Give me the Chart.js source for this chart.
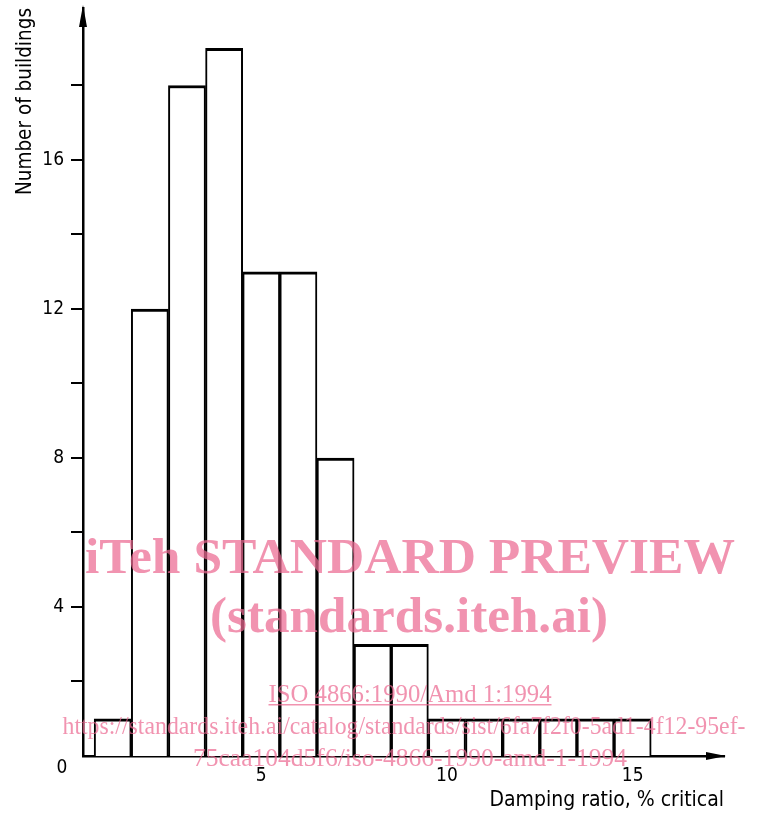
<!DOCTYPE html>
<html>
<head>
<meta charset="utf-8">
<script src="https://cdn.jsdelivr.net/npm/chart.js@4.4.0/dist/chart.umd.min.js"></script>
<style>
html,body{margin:0;padding:0;background:#fff;}
canvas{display:block;}
</style>
</head>
<body>
<canvas id="c" width="757" height="815"></canvas>
<script>
// ---- data ----
const binCenters = [1, 2, 3, 4, 5, 6, 7, 8, 9, 10, 11, 12, 13, 14, 15];
const buildingCounts = [1, 12, 18, 19, 13, 13, 8, 3, 3, 1, 1, 1, 1, 1, 1];
const yTickValues = [2, 4, 6, 8, 10, 12, 14, 16, 18];
const yLabelValues = [4, 8, 12, 16];
const xTickValues = [5, 10, 15];
const xTitle = 'Damping ratio, % critical';
const yTitle = 'Number of buildings';
const originLabel = '0';
const watermarkLines = [
  'iTeh STANDARD PREVIEW',
  '(standards.iteh.ai)',
  'ISO 4866:1990/Amd 1:1994',
  'https://standards.iteh.ai/catalog/standards/sist/6fa7f2f0-5ad1-4f12-95ef-',
  '75caa104d5f6/iso-4866-1990-amd-1-1994'
];

const FONT = "'DejaVu Sans Condensed', 'Liberation Sans Narrow', 'DejaVu Sans', sans-serif";

const decorPlugin = {
  id: 'decor',
  afterDraw(chart) {
    const ctx = chart.ctx;
    const a = chart.chartArea;
    ctx.save();
    // arrowheads
    ctx.fillStyle = '#000';
    ctx.beginPath();
    ctx.moveTo(a.left, a.top - 3);
    ctx.lineTo(a.left - 4, a.top + 19);
    ctx.lineTo(a.left + 4, a.top + 19);
    ctx.closePath();
    ctx.fill();
    ctx.beginPath();
    ctx.moveTo(a.right + 2, a.bottom);
    ctx.lineTo(a.right - 18, a.bottom - 4);
    ctx.lineTo(a.right - 18, a.bottom + 4);
    ctx.closePath();
    ctx.fill();
    // origin label
    ctx.font = '19px ' + FONT;
    ctx.textAlign = 'center';
    ctx.textBaseline = 'middle';
    ctx.fillText(originLabel, a.left - 21, a.bottom + 12);

    // watermark
    ctx.fillStyle = 'rgba(235,105,145,0.72)';
    ctx.textBaseline = 'alphabetic';
    const specs = [
      {font: "bold 51px 'Liberation Serif', serif", cx: 410, base: 573, w: 650},
      {font: "bold 51px 'Liberation Serif', serif", cx: 409, base: 632, w: 398},
      {font: "25px 'Liberation Serif', serif", cx: 410, base: 702, w: 283, underline: true},
      {font: "25px 'Liberation Serif', serif", cx: 404, base: 734, w: 683},
      {font: "25px 'Liberation Serif', serif", cx: 410, base: 766, w: 434}
    ];
    specs.forEach((s, i) => {
      ctx.font = s.font;
      const m = ctx.measureText(watermarkLines[i]).width;
      const sx = s.w / m;
      ctx.save();
      ctx.translate(s.cx, s.base);
      ctx.scale(sx, 1);
      ctx.textAlign = 'center';
      ctx.fillText(watermarkLines[i], 0, 0);
      ctx.restore();
      if (s.underline) {
        ctx.fillRect(s.cx - s.w / 2, s.base + 2, s.w, 1.5);
      }
    });
    ctx.restore();
  }
};

new Chart(document.getElementById('c'), {
  type: 'bar',
  data: {
    datasets: [{
      data: binCenters.map((x, i) => ({x: x, y: buildingCounts[i]})),
      backgroundColor: '#fff',
      borderColor: '#000',
      borderWidth: {top: 3, left: 2, right: 2, bottom: 0},
      borderSkipped: 'start',
      barPercentage: 1,
      categoryPercentage: 1
    }]
  },
  options: {
    responsive: false,
    devicePixelRatio: 1,
    animation: false,
    events: [],
    layout: {autoPadding: false, padding: {top: 8, right: 33, left: 0, bottom: 0}},
    plugins: {legend: {display: false}, tooltip: {enabled: false}},
    scales: {
      x: {
        type: 'linear',
        offset: false,
        min: 0.2,
        max: 17.46,
        afterFit: s => { s.height = 59; s.paddingLeft = 0; s.paddingRight = 0; },
        afterBuildTicks: s => { s.ticks = xTickValues.map(v => ({value: v})); },
        grid: {display: true, offset: false, drawOnChartArea: false, drawTicks: false},
        border: {display: true, color: '#000', width: 2.5},
        ticks: {color: '#000', padding: 9, maxRotation: 0, autoSkip: false,
                font: {family: FONT, size: 19}},
        title: {display: true, text: xTitle, align: 'end', color: '#000',
                font: {family: FONT, size: 21}, padding: {bottom: 2}}
      },
      y: {
        type: 'linear',
        min: 0,
        max: 20.08,
        afterFit: s => { s.width = 83; s.paddingTop = 0; s.paddingBottom = 0; },
        afterBuildTicks: s => { s.ticks = yTickValues.map(v => ({value: v})); },
        grid: {display: true, drawOnChartArea: false, drawTicks: true, tickLength: 12, color: '#000', lineWidth: 2},
        border: {display: true, color: '#000', width: 2.5},
        ticks: {color: '#000', padding: 7, autoSkip: false,
                font: {family: FONT, size: 19},
                callback: v => yLabelValues.includes(v) ? String(v) : ''},
        title: {display: true, text: yTitle, align: 'end', color: '#000',
                font: {family: FONT, size: 20.5}, padding: {top: 13}}
      }
    }
  },
  plugins: [decorPlugin]
});
</script>
</body>
</html>
